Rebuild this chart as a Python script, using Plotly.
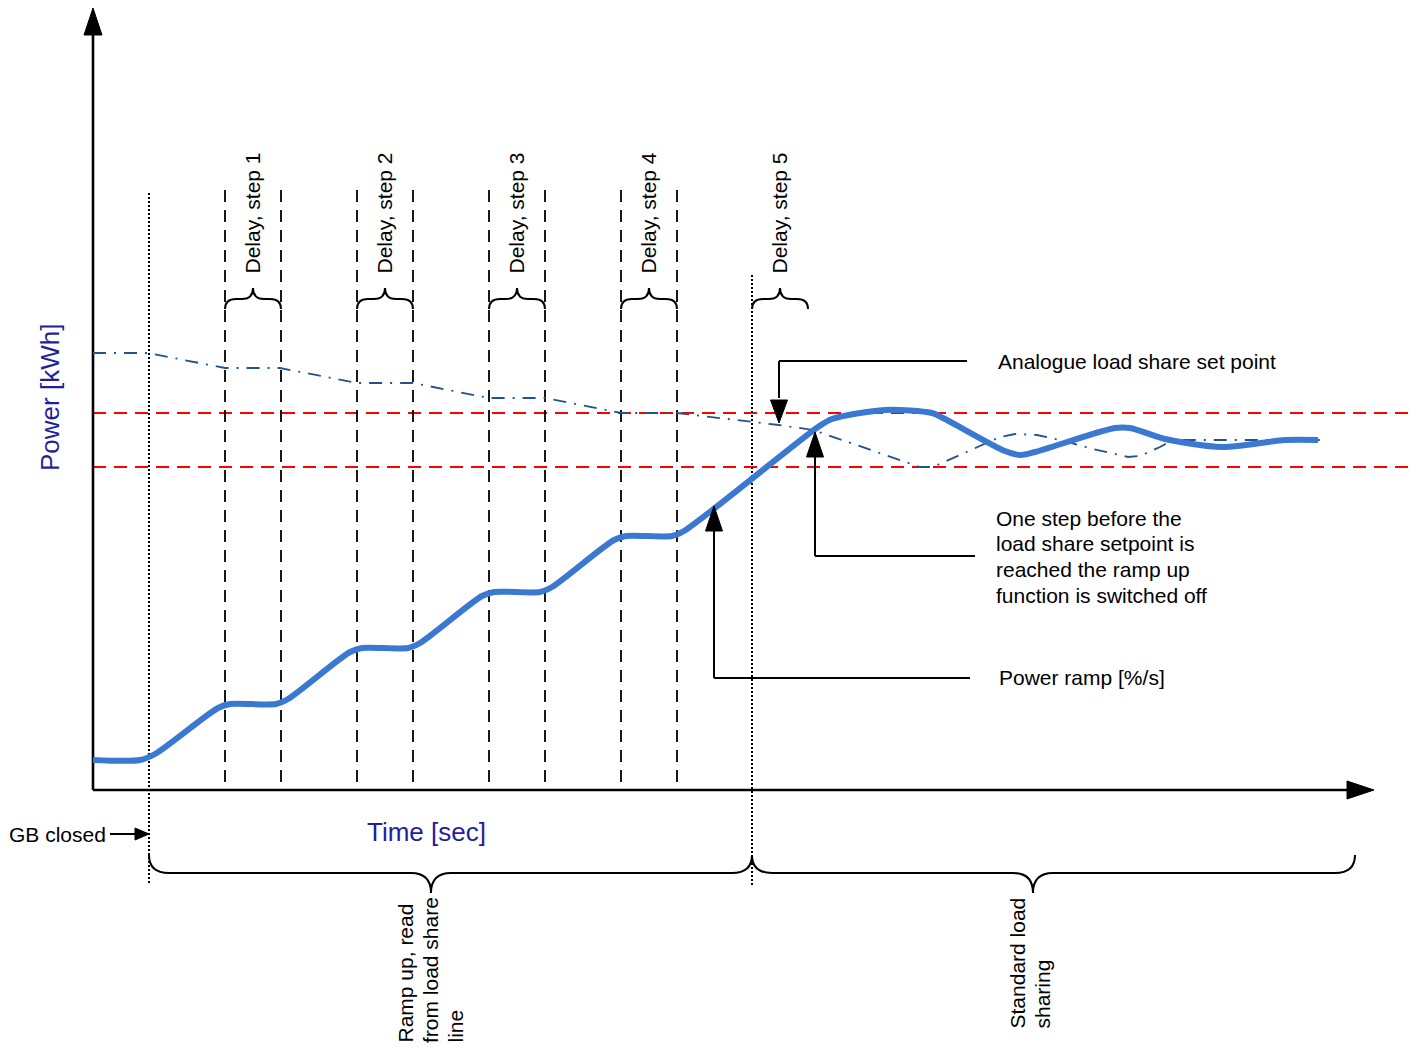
import plotly.graph_objects as go

# ---------------- data (time units, power units; origin at the axes corner) ----------------
ramp_t = [0, 47, 62, 125, 137, 183, 195, 257, 269, 315, 327, 389, 401, 447, 459, 521, 533, 579, 591,
          725, 739, 792, 839, 852, 912, 927, 942, 1022, 1037, 1072, 1129, 1192, 1225]
ramp_p = [30, 30, 36, 82, 86, 86, 91, 138, 142, 142, 147, 194, 198, 198, 203, 250, 254, 254, 259,
          363, 371, 380, 377, 371, 339, 335, 338, 362, 362, 351, 343, 350, 350]

setp_t = [0, 55, 132, 187, 264, 320, 396, 452, 528, 584, 660, 686, 720, 827, 840, 880, 907, 922,
          944, 967, 1000, 1035, 1047, 1067, 1080, 1227]
setp_p = [437, 437, 422, 422, 407, 407, 392, 392, 377, 377, 368, 365, 360, 323, 323, 341, 353, 356,
          355, 350, 341, 333, 334, 343, 350, 350]

band_levels = [377, 323]          # red dashed tolerance band
band_end = 1317
delay_starts = [132, 264, 396, 528, 659]
delay_len = 56
delay_labels = ["Delay, step 1", "Delay, step 2", "Delay, step 3", "Delay, step 4", "Delay, step 5"]
gb_closed_t = 56
ramp_off_t = 659
phase_end_t = 1262
phase_tips = [338, 940]
phase_labels = [["Ramp up, read", "from load share", "line"], ["Standard load", "sharing"]]

# ranges chosen so that one unit is one screen pixel (page body has an 8px margin)
X_MIN, X_MAX = -85, 1332
Y_MIN, Y_MAX = -266, 782

FONT = "Liberation Sans, Arial, sans-serif"
NAVY = "#1f1f9e"
BLACK = "#000000"

fig = go.Figure()

# setpoint (dash-dot)
fig.add_trace(go.Scatter(x=setp_t, y=setp_p, mode="lines",
                         line=dict(color="#24528f", width=1.8, dash="13px,8px,2px,8px"),
                         hoverinfo="skip", showlegend=False))
# power ramp
fig.add_trace(go.Scatter(x=ramp_t, y=ramp_p, mode="lines",
                         line=dict(color="#3a78d2", width=6, shape="spline", smoothing=0.8),
                         hoverinfo="skip", showlegend=False))

shapes = []

def seg(x0, y0, x1, y1, width=2.2, dash="solid", color=BLACK):
    shapes.append(dict(type="line", xref="x", yref="y", x0=x0, y0=y0, x1=x1, y1=y1,
                       line=dict(color=color, width=width, dash=dash), layer="below"))

def tri(tip, base_c, half, vertical=True):
    tx, ty = tip
    if vertical:
        bx, by = tx, base_c
        path = f"M{tx},{ty} L{bx - half},{by} L{bx + half},{by} Z"
    else:
        bx, by = base_c, ty
        path = f"M{tx},{ty} L{bx},{by - half} L{bx},{by + half} Z"
    shapes.append(dict(type="path", xref="x", yref="y", path=path, fillcolor=BLACK,
                       line=dict(color=BLACK, width=1), layer="above"))

def brace(x0, x1, y_end, y_base, y_tip, r, xm=None):
    if xm is None:
        xm = (x0 + x1) / 2
    p = (f"M{x0},{y_end} Q{x0},{y_base} {x0 + r},{y_base} L{xm - r},{y_base} "
         f"Q{xm},{y_base} {xm},{y_tip} Q{xm},{y_base} {xm + r},{y_base} "
         f"L{x1 - r},{y_base} Q{x1},{y_base} {x1},{y_end}")
    shapes.append(dict(type="path", xref="x", yref="y", path=p,
                       line=dict(color=BLACK, width=2)))

# red tolerance band
for lv in band_levels:
    seg(0, lv, band_end, lv, width=2, dash="13px,8px", color="#ff0000")

# delay vertical dashed lines and small braces
for s in delay_starts[:4]:
    seg(s, 8, s, 600, width=1.8, dash="12px,8px")
    seg(s + delay_len, 8, s + delay_len, 600, width=1.8, dash="12px,8px")
for s in delay_starts:
    brace(s, s + delay_len, 481, 491, 502, 11)

# dotted event lines
seg(gb_closed_t, 597, gb_closed_t, -95, width=2, dash="2px,2px")
seg(ramp_off_t, 515, ramp_off_t, -95, width=2, dash="2px,2px")

# big phase braces
brace(gb_closed_t, ramp_off_t, -65, -83, -103, 20, xm=phase_tips[0])
brace(ramp_off_t, phase_end_t, -65, -83, -103, 20, xm=phase_tips[1])

# axes with arrow heads
seg(0, 0, 0, 760, width=2.6)
tri((0, 782), 755, 9, vertical=True)
seg(0, 0, 1258, 0, width=2.6)
tri((1281, 0), 1254, 9, vertical=False)

# callout arrows
seg(874, 429, 686, 429, width=2)
seg(686, 429, 686, 392, width=2)
tri((686, 367), 390, 8.5)

seg(722, 335, 722, 234, width=2)
seg(722, 234, 882, 234, width=2)
tri((722, 358), 333, 8.5)

seg(621, 261, 621, 112, width=2)
seg(621, 112, 877, 112, width=2)
tri((621, 284), 259, 8.5)

seg(17, -44, 44, -44, width=2)
tri((gb_closed_t, -44), 42, 6, vertical=False)

fig.update_layout(shapes=shapes)

ann = []
def text(x, y, s, size=21, color=BLACK, xanchor="left", yanchor="middle", angle=0):
    ann.append(dict(x=x, y=y, xref="x", yref="y", text=s, showarrow=False,
                    xanchor=xanchor, yanchor=yanchor, textangle=angle,
                    font=dict(family=FONT, size=size, color=color)))

text(-43, 392, "Power [kWh]", size=26, color=NAVY, xanchor="center", angle=-90)
text(333, -42, "Time [sec]", size=26, color=NAVY, xanchor="center")
for s, lab in zip(delay_starts, delay_labels):
    text(s + 27, 514, lab, xanchor="center", yanchor="bottom", angle=-90)
text(903, 429, "Analogue load share set point")
for i, line in enumerate(["One step before the", "load share setpoint is",
                          "reached the ramp up", "function is switched off"]):
    text(901, 272 - 25.7 * i, line)
text(904, 113, "Power ramp [%/s]")
text(15, -44, "GB closed", xanchor="right")
for i, line in enumerate(phase_labels[0]):
    text(312 + 25 * i, -255, line, xanchor="center", yanchor="bottom", angle=-90)
for i, line in enumerate(phase_labels[1]):
    text(924 + 25 * i, -241, line, xanchor="center", yanchor="bottom", angle=-90)

fig.update_layout(
    annotations=ann,
    width=1417, height=1048,
    margin=dict(l=0, r=0, t=0, b=0),
    paper_bgcolor="white", plot_bgcolor="white",
    xaxis=dict(range=[X_MIN, X_MAX], visible=False, fixedrange=True),
    yaxis=dict(range=[Y_MIN, Y_MAX], visible=False, fixedrange=True),
    showlegend=False,
)

fig.write_html("out.html")
